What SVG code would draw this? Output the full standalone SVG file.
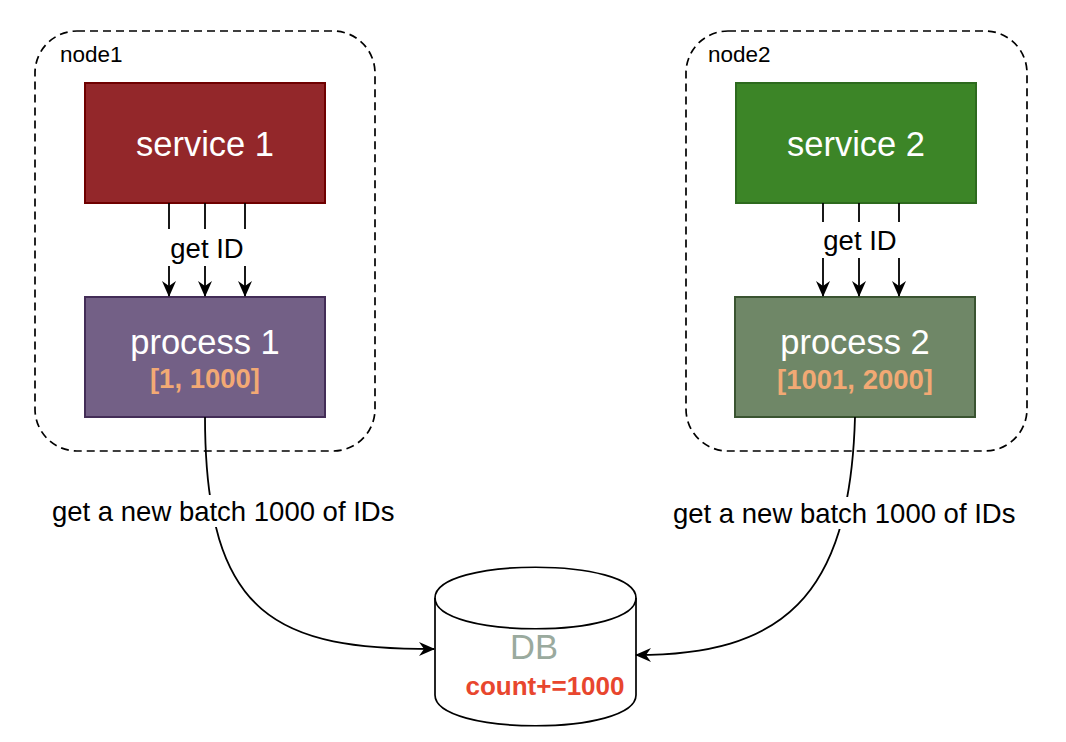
<svg xmlns="http://www.w3.org/2000/svg" width="1066" height="742" viewBox="0 0 1066 742">
<defs>
<style>
text{font-family:"Liberation Sans",Arial,Helvetica,sans-serif;}
.container{fill:none;stroke:#000;stroke-width:1.7;stroke-dasharray:8 5;}
.small{font-size:22.5px;fill:#000;}
.big{font-size:34.5px;fill:#fff;text-anchor:middle;}
.range{font-size:27.5px;font-weight:bold;fill:#F2A974;text-anchor:middle;}
.lbl{font-size:27.5px;fill:#000;}
.edge{fill:none;stroke:#000;stroke-width:1.8;}
</style>
<marker id="arr" viewBox="0 0 16 14" refX="15" refY="7" markerWidth="16" markerHeight="14" markerUnits="userSpaceOnUse" orient="auto">
<path d="M0,0 L16,7 L0,14 L5,7 Z" fill="#000"/>
</marker>
</defs>
<rect width="1066" height="742" fill="#fff"/>

<g id="node1">
<rect class="container" x="35" y="31" width="340" height="420" rx="42"/>
<text class="small" x="60" y="62">node1</text>
</g>
<g id="node2">
<rect class="container" x="686" y="31" width="341" height="420" rx="42"/>
<text class="small" x="708" y="62">node2</text>
</g>

<g id="service1">
<rect x="85" y="83" width="240" height="120" fill="#93272A" stroke="#6F0000" stroke-width="2"/>
<text class="big" x="205" y="156">service 1</text>
</g>
<g id="process1">
<rect x="85" y="297" width="240" height="120" fill="#736086" stroke="#432D57" stroke-width="2"/>
<text class="big" x="205" y="354">process 1</text>
<text class="range" x="205" y="388">[1, 1000]</text>
</g>
<g id="service2">
<rect x="736" y="83" width="240" height="120" fill="#3C8527" stroke="#2D6A1E" stroke-width="2"/>
<text class="big" x="856" y="156">service 2</text>
</g>
<g id="process2">
<rect x="735" y="297" width="240" height="120" fill="#6F8767" stroke="#3A5431" stroke-width="2"/>
<text class="big" x="855" y="354">process 2</text>
<text class="range" x="855" y="389">[1001, 2000]</text>
</g>

<g id="db">
<path d="M435,598 C435,557 636,557 636,598 L636,695 C636,736 435,736 435,695 Z" fill="#fff" stroke="#000" stroke-width="1.7"/>
<path d="M435,598 C435,639 636,639 636,598" fill="none" stroke="#000" stroke-width="1.7"/>
<text x="534" y="659" font-size="34.5" fill="#9AAA9E" text-anchor="middle">DB</text>
<text x="545" y="695" font-size="26" font-weight="bold" fill="#E8462E" text-anchor="middle">count+=1000</text>
</g>

<g id="connectors">
<line class="edge" x1="169" y1="203" x2="169" y2="229"/>
<line class="edge" x1="205" y1="203" x2="205" y2="229"/>
<line class="edge" x1="245" y1="203" x2="245" y2="229"/>
<line class="edge" x1="169" y1="266" x2="169" y2="296" marker-end="url(#arr)"/>
<line class="edge" x1="205" y1="266" x2="205" y2="296" marker-end="url(#arr)"/>
<line class="edge" x1="245" y1="266" x2="245" y2="296" marker-end="url(#arr)"/>
<text class="lbl" x="207" y="258" text-anchor="middle">get ID</text>

<line class="edge" x1="823" y1="203" x2="823" y2="222"/>
<line class="edge" x1="859" y1="203" x2="859" y2="222"/>
<line class="edge" x1="899" y1="203" x2="899" y2="222"/>
<line class="edge" x1="823" y1="258" x2="823" y2="296" marker-end="url(#arr)"/>
<line class="edge" x1="859" y1="258" x2="859" y2="296" marker-end="url(#arr)"/>
<line class="edge" x1="899" y1="258" x2="899" y2="296" marker-end="url(#arr)"/>
<text class="lbl" x="860" y="250" text-anchor="middle">get ID</text>

<path class="edge" d="M205,417 C205,620 280,649 434,649" marker-end="url(#arr)"/>
<rect x="50" y="495" width="350" height="32" fill="#fff"/>
<text class="lbl" x="52" y="521">get a new batch 1000 of IDs</text>

<path class="edge" d="M855,417 C850,600 780,655 636,655" marker-end="url(#arr)"/>
<rect x="671" y="497" width="351" height="32" fill="#fff"/>
<text class="lbl" x="673" y="523">get a new batch 1000 of IDs</text>
</g>
</svg>
